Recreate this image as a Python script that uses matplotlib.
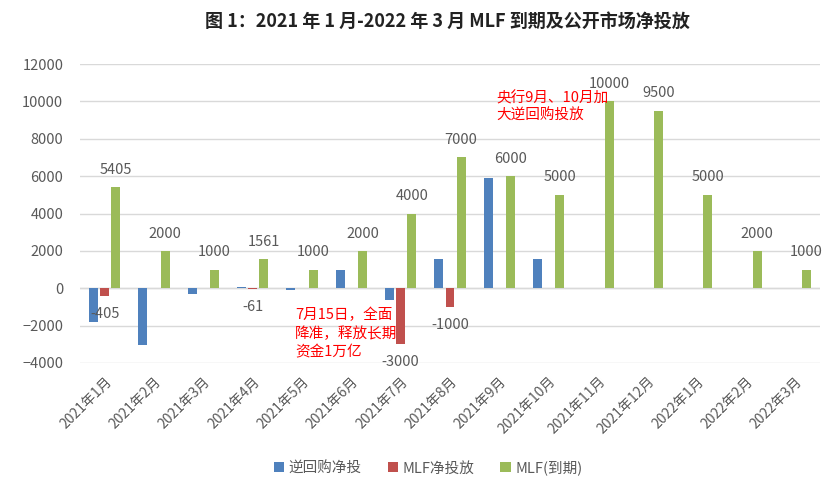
import matplotlib
matplotlib.use('Agg')
import matplotlib.pyplot as plt
import numpy as np

plt.rcParams['font.family'] = ['Noto Sans CJK SC', 'DejaVu Sans']

months = ['2021年1月', '2021年2月', '2021年3月', '2021年4月', '2021年5月',
          '2021年6月', '2021年7月', '2021年8月', '2021年9月', '2021年10月',
          '2021年11月', '2021年12月', '2022年1月', '2022年2月', '2022年3月']
repo_net = [-1780, -3060, -320, 60, -120, 1000, -620, 1580, 5880, 1580,
            0, 0, 0, 0, 0]
mlf_net = [-405, 0, 0, -61, 0, 0, -3000, -1000, 0, 0, 0, 0, 0, 0, 0]
mlf_due = [5405, 2000, 1000, 1561, 1000, 2000, 4000, 7000, 6000, 5000,
           10000, 9500, 5000, 2000, 1000]

c_blue = '#4F81BD'
c_red = '#C0504D'
c_green = '#9BBB59'
grey = '#595959'

fig = plt.figure(figsize=(8.36, 4.92), dpi=100)
ax = fig.add_axes([80 / 836, 1 - 363 / 492, 740 / 836, 299 / 492])

x = np.arange(len(months))
w = 0.18
off = 0.225
ax.bar(x - off, repo_net, w, color=c_blue, label='逆回购净投', zorder=3)
ax.bar(x, mlf_net, w, color=c_red, label='MLF净投放', zorder=3)
ax.bar(x + off, mlf_due, w, color=c_green, label='MLF(到期)', zorder=3)

# data labels
for i, v in enumerate(mlf_due):
    ax.annotate(str(v), (x[i] + off, v), xytext=(0, 12.5), textcoords='offset points',
                ha='center', va='center', fontsize=10.5, color=grey, zorder=4)
for i, v in enumerate(mlf_net):
    if v != 0:
        ax.annotate(str(v), (x[i], v), xytext=(0, -13), textcoords='offset points',
                    ha='center', va='center', fontsize=10.5, color=grey, zorder=4)


def note(xd, yd, lines, step):
    # one text per line so the short last line keeps clear of nearby labels
    for k, line in enumerate(lines):
        ax.annotate(line, (xd, yd), xytext=(0, -k * step), textcoords='offset points',
                    color='red', fontsize=10.5, ha='left', va='top', zorder=5)


note(3.86, -1050, ['7月15日，全面', '降准，释放长期', '资金1万亿'], 13.5)
note(7.94, 10550, ['央行9月、10月加', '大逆回购投放'], 12.5)

ax.set_xlim(-0.5, len(months) - 0.5)
ax.set_ylim(-4000, 12000)
ax.set_yticks(np.arange(-4000, 12001, 2000))
ax.yaxis.grid(True, color='#D9D9D9', linewidth=1, zorder=0)
for s in ax.spines.values():
    s.set_visible(False)
ax.axhline(0, color='#D9D9D9', linewidth=1, zorder=1)
ax.tick_params(axis='y', length=0, pad=12, labelsize=10.5, labelcolor=grey)
ax.tick_params(axis='x', length=0, pad=8, labelsize=10, labelcolor=grey)
ax.set_xticks(x)
ax.set_xticklabels(months, rotation=45, ha='right', rotation_mode='anchor')

fig.suptitle('图 1：2021 年 1 月-2022 年 3 月 MLF 到期及公开市场净投放',
             x=0.535, y=0.975, fontsize=13, fontweight='bold', color='#222222')

leg = fig.legend(loc='center', bbox_to_anchor=(0.512, 1 - 468 / 492), ncol=3,
                 frameon=False, fontsize=10.5, handlelength=0.7, handleheight=0.7,
                 handletextpad=0.3, columnspacing=1.8)
for t in leg.get_texts():
    t.set_color(grey)

fig.savefig('out.png', dpi=100)
